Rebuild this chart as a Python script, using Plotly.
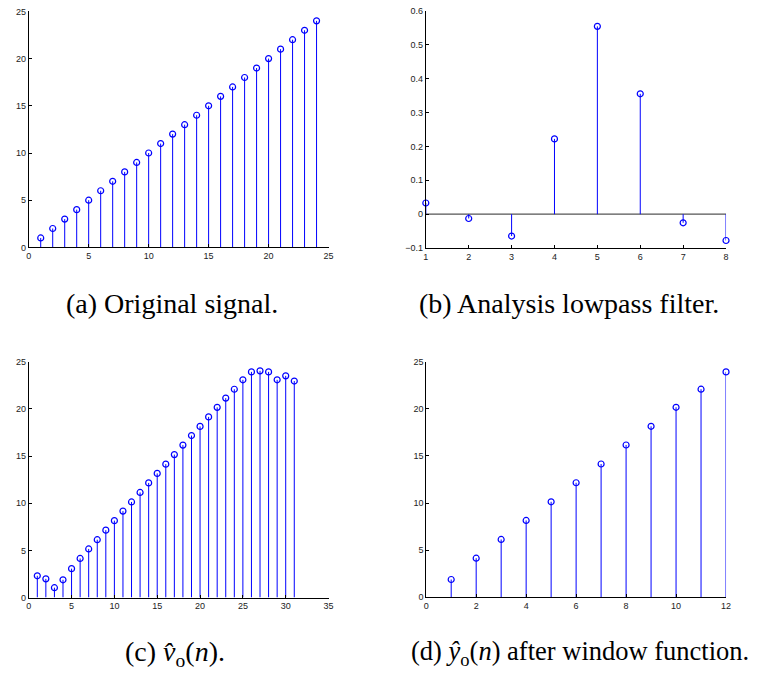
import plotly.graph_objects as go

# (a) original signal
a_n = list(range(1, 25))
a_val = [1, 2, 3, 4, 5, 6, 7, 8, 9, 10, 11, 12, 13, 14, 15, 16, 17, 18, 19, 20, 21, 22, 23, 24]

# (b) analysis lowpass filter taps
b_n = [1, 2, 3, 4, 5, 6, 7, 8]
b_val = [0.0331, -0.0126, -0.0645, 0.2223, 0.5544, 0.3553, -0.0253, -0.0776]

# (c) filtered output v_o(n)
c_n = list(range(1, 32))
c_val = [2.30, 1.98, 1.04, 1.88, 3.06, 4.14, 5.15, 6.13, 7.14, 8.15, 9.16, 10.13,
         11.14, 12.15, 13.16, 14.14, 15.15, 16.16, 17.17, 18.14, 19.15, 20.16,
         21.14, 22.08, 23.08, 23.92, 24.03, 23.92, 23.08, 23.50, 22.95]

# (d) y_o(n) after window function
d_n = list(range(1, 13))
d_val = [1.88, 4.14, 6.13, 8.15, 10.13, 12.15, 14.14, 16.16, 18.14, 20.16, 22.08, 23.92]

captions = [
    "(a) Original signal.",
    "(b) Analysis lowpass filter.",
    "(c) <i>v\u0302</i><sub>o</sub>(<i>n</i>).",
    "(d) <i>y\u0302</i><sub>o</sub>(<i>n</i>) after window function.",
]

W, H = 762, 684
BLUE = "#0000ff"


def px_x(p):
    return p / W


def px_y(p):
    return 1 - p / H


panels = [
    # data, axis ranges, ticks, pixel box (left, right, top, bottom)
    dict(n=a_n, v=a_val, xr=[0, 25], xt=5, yr=[0, 25], yt=5, box=(26, 329, 6.5, 246), baseline=False),
    dict(n=b_n, v=b_val, xr=[1, 8], xt=1, yr=[-0.1, 0.6], yt=0.1, box=(427.3, 730.7, 6, 246.7), baseline=True),
    dict(n=c_n, v=c_val, xr=[0, 35], xt=5, yr=[0, 25], yt=5, box=(26, 329, 362, 601.3), baseline=False),
    dict(n=d_n, v=d_val, xr=[0, 12], xt=2, yr=[0, 25], yt=5, box=(427.7, 730.7, 362, 601), baseline=False),
]

fig = go.Figure()
layout = {}
tick_font = dict(family="Liberation Sans", size=9, color="#222222")

for i, p in enumerate(panels, start=1):
    xa = "x" if i == 1 else f"x{i}"
    ya = "y" if i == 1 else f"y{i}"
    xk = "xaxis" if i == 1 else f"xaxis{i}"
    yk = "yaxis" if i == 1 else f"yaxis{i}"

    # stems as separated vertical segments
    sx, sy = [], []
    for n, v in zip(p["n"], p["v"]):
        sx += [n, n, None]
        sy += [0, v, None]

    if p["baseline"]:
        fig.add_trace(go.Scatter(x=[p["xr"][0], p["xr"][1]], y=[0, 0], mode="lines",
                                 line=dict(color="#555555", width=1.3),
                                 xaxis=xa, yaxis=ya, showlegend=False, hoverinfo="skip"))
    fig.add_trace(go.Scatter(x=sx, y=sy, mode="lines", line=dict(color=BLUE, width=1),
                             xaxis=xa, yaxis=ya, showlegend=False, hoverinfo="skip"))
    fig.add_trace(go.Scatter(x=p["n"], y=p["v"], mode="markers",
                             marker=dict(symbol="circle-open", size=6, color=BLUE,
                                         line=dict(color=BLUE, width=1.2)),
                             xaxis=xa, yaxis=ya, showlegend=False, cliponaxis=False))

    l, r, t, b = p["box"]
    layout[xk] = dict(domain=[px_x(l), px_x(r)], range=p["xr"], dtick=p["xt"], tick0=0,
                      anchor=ya, showgrid=False, zeroline=False, showline=True,
                      linecolor="black", linewidth=1, ticks="inside", ticklen=3,
                      tickcolor="black", tickfont=tick_font, fixedrange=True)
    layout[yk] = dict(domain=[px_y(b), px_y(t)], range=p["yr"], dtick=p["yt"],
                      tick0=0, anchor=xa, showgrid=False, zeroline=False, showline=True,
                      linecolor="black", linewidth=1, ticks="inside", ticklen=3,
                      tickcolor="black", tickfont=tick_font, fixedrange=True)

cap_pos = [(171, 303), (572, 303), (174, 658), (583, 658)]
cap_size = [28, 28, 28, 26.5]
annotations = []
for text, (cx, cy), sz in zip(captions, cap_pos, cap_size):
    annotations.append(dict(text=text, x=px_x(cx), y=px_y(cy), xref="paper", yref="paper",
                            showarrow=False, xanchor="center", yanchor="middle",
                            font=dict(family="Liberation Serif", size=sz, color="black")))

fig.update_layout(width=W, height=H, margin=dict(l=0, r=0, t=0, b=0),
                  paper_bgcolor="white", plot_bgcolor="white",
                  annotations=annotations, **layout)

fig.write_html("out.html")
